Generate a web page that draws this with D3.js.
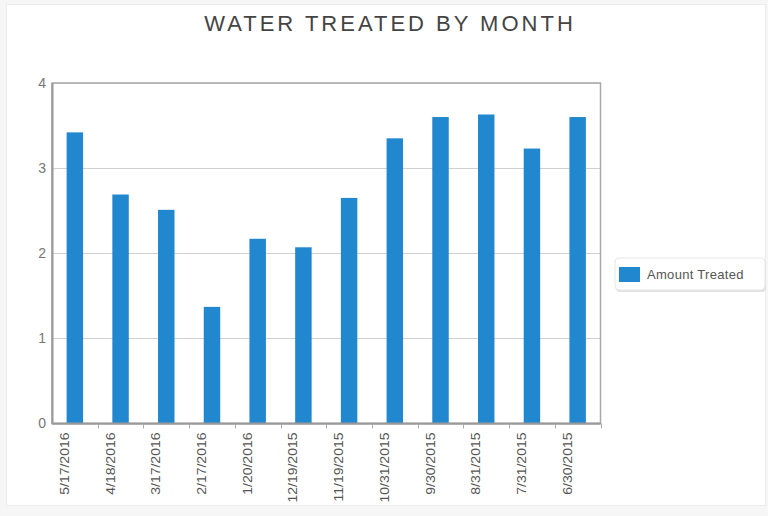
<!DOCTYPE html>
<html>
<head>
<meta charset="utf-8">
<script src="https://cdn.jsdelivr.net/npm/d3@7"></script>
<style>
  html, body { margin: 0; padding: 0; background: #f6f6f6; }
  svg { display: block; }
</style>
</head>
<body>
<div id="chart"></div>
<script>
const width = 768;
const height = 516;

// data
const dates = ['5/17/2016', '4/18/2016', '3/17/2016', '2/17/2016', '1/20/2016', '12/19/2015',
    '11/19/2015', '10/31/2015', '9/30/2015', '8/31/2015', '7/31/2015', '6/30/2015'];
const amounts = [3.42, 2.69, 2.51, 1.37, 2.17, 2.07, 2.65, 3.35, 3.60, 3.63, 3.23, 3.60];
const yTicks = [0, 1, 2, 3, 4];
const seriesName = 'Amount Treated';

const margin = { top: 83, right: 168, bottom: 92, left: 52 };
const plotW = width - margin.left - margin.right + 0.5;
const plotH = height - margin.top - margin.bottom - 0.5;

const svg = d3.select('#chart')
    .append('svg')
    .attr('width', width)
    .attr('height', height);

// white panel
svg.append('rect')
    .attr('x', 6.5).attr('y', 4.5)
    .attr('width', 759).attr('height', 501)
    .attr('fill', '#fff')
    .attr('stroke', '#ececec');

svg.append('text')
    .attr('x', 390)
    .attr('y', 31)
    .attr('text-anchor', 'middle')
    .attr('font-family', 'Liberation Sans, Arial, sans-serif')
    .attr('font-size', 22)
    .attr('letter-spacing', 3)
    .attr('fill', '#444')
    .text('WATER TREATED BY MONTH');

const g = svg.append('g')
    .attr('transform', `translate(${margin.left},${margin.top})`);

const x = d3.scaleBand()
    .domain(dates)
    .range([0, plotW]);

const y = d3.scaleLinear()
    .domain([0, 4])
    .range([plotH, 0]);

// gridlines
g.selectAll('.grid')
    .data(yTicks)
    .enter().append('line')
    .attr('x1', 0).attr('x2', plotW)
    .attr('y1', d => Math.round(y(d)) + 0.5)
    .attr('y2', d => Math.round(y(d)) + 0.5)
    .attr('stroke', '#d0d0d0');

// plot frame
g.append('rect')
    .attr('x', 0).attr('y', 0)
    .attr('width', plotW).attr('height', plotH)
    .attr('fill', 'none')
    .attr('stroke', '#a8a8a8')
    .attr('stroke-width', 1.5);

// bars
const barW = x.bandwidth() * 0.36;
g.selectAll('.bar')
    .data(amounts)
    .enter().append('rect')
    .attr('x', (d, i) => x(dates[i]) + x.bandwidth() / 2 - barW / 2)
    .attr('y', d => y(d))
    .attr('width', barW)
    .attr('height', d => plotH - y(d))
    .attr('fill', '#2187cf');

// y axis labels
const yAxis = g.append('g')
    .call(d3.axisLeft(y).tickValues(yTicks).tickSize(0).tickPadding(6).tickFormat(d3.format('d')));
yAxis.select('.domain').attr('stroke', '#999').attr('stroke-width', 2);
yAxis.selectAll('text')
    .attr('font-family', 'Liberation Sans, Arial, sans-serif')
    .attr('font-size', 14)
    .attr('fill', '#777');

// x axis: ticks on band edges
const edges = dates.map(d => x(d)).concat([plotW]).slice(1);
const xAxis = g.append('g')
    .attr('transform', `translate(0,${plotH})`);
xAxis.append('line')
    .attr('x1', 0).attr('x2', plotW)
    .attr('y1', 0).attr('y2', 0)
    .attr('stroke', '#999').attr('stroke-width', 2);
xAxis.selectAll('.tick')
    .data(edges)
    .enter().append('line')
    .attr('x1', d => Math.round(d) + 0.5).attr('x2', d => Math.round(d) + 0.5)
    .attr('y1', 0).attr('y2', 5)
    .attr('stroke', '#aaa');
xAxis.selectAll('.lbl')
    .data(dates)
    .enter().append('text')
    .attr('transform', d => `translate(${x(d) + x.bandwidth() / 2 - 6},9) rotate(-90) scale(1.12,1)`)
    .attr('text-anchor', 'end')
    .attr('font-family', 'Liberation Sans, Arial, sans-serif')
    .attr('font-size', 12.5)
    .attr('fill', '#555')
    .text(d => d);

// legend
const legend = svg.append('g')
    .attr('transform', 'translate(615,258)');
legend.append('rect')
    .attr('x', 1).attr('y', 2)
    .attr('width', 150).attr('height', 32)
    .attr('rx', 4)
    .attr('fill', '#e2e2e2');
legend.append('rect')
    .attr('x', 0).attr('y', 0)
    .attr('width', 150).attr('height', 32)
    .attr('rx', 4)
    .attr('fill', '#fff')
    .attr('stroke', '#e6e6e6');
legend.append('rect')
    .attr('x', 4).attr('y', 9)
    .attr('width', 21).attr('height', 15)
    .attr('fill', '#2187cf');
legend.append('text')
    .attr('x', 32).attr('y', 21)
    .attr('font-family', 'Liberation Sans, Arial, sans-serif')
    .attr('font-size', 13)
    .attr('letter-spacing', 0.3)
    .attr('fill', '#555')
    .text(seriesName);
</script>
</body>
</html>
